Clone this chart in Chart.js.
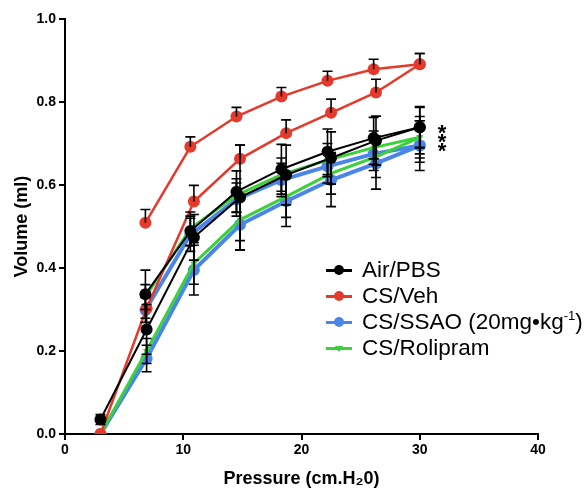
<!DOCTYPE html>
<html>
<head>
<meta charset="utf-8">
<script src="https://cdn.jsdelivr.net/npm/chart.js@4/dist/chart.umd.min.js"></script>
<style>
  body { margin: 0; background: #fff; }
  #wrap { position: relative; width: 588px; height: 491px; }
  #legend { position: absolute; left: 326px; top: 257px; font-family: "Liberation Sans", Arial, sans-serif; font-size: 22.5px; color: #000; }
  .row { height: 26px; line-height: 26px; white-space: nowrap; position: relative; padding-left: 36px; }
  .mk { position: absolute; left: 0; top: 12px; width: 26px; height: 2.5px; }
  .dot { position: absolute; left: 8px; top: -4px; width: 10px; height: 10px; border-radius: 50%; }
  .tri { position: absolute; left: 9px; top: -1px; width: 0; height: 0; border-left: 4px solid transparent; border-right: 4px solid transparent; border-top: 6px solid #3ad13a; }
  sup { font-size: 13px; vertical-align: 9px; line-height: 0; }
</style>
</head>
<body>
<div id="wrap">
  <canvas id="myChart" width="588" height="491"></canvas>
  <div id="legend"></div>
</div>
<script>
// pressures (cm H2O) for the two limbs of the P-V loop
var inflationPressure = [3, 6.9, 10.9, 14.8, 18.7, 22.5, 26.3, 30];
var deflationPressure = [6.8, 10.6, 14.5, 18.3, 22.2, 26.1, 30];

var groupNames = ["Air/PBS", "CS/Veh", "CS/SSAO (20mg\u2022kg-1)", "CS/Rolipram"];
var groupColors = ["#000000", "#e5392b", "#4a86ea", "#3ad13a"];

// volumes (ml)
var airInfl = [0.035, 0.252, 0.474, 0.570, 0.624, 0.665, 0.707, 0.739];
var airDefl = [0.337, 0.489, 0.584, 0.638, 0.680, 0.713, 0.739];
var vehInfl = [0, 0.303, 0.560, 0.663, 0.725, 0.774, 0.823, 0.891];
var vehDefl = [0.509, 0.692, 0.765, 0.813, 0.851, 0.879, 0.891];
var ssaoInfl = [0, 0.182, 0.395, 0.504, 0.561, 0.612, 0.652, 0.695];
var ssaoDefl = [0.299, 0.480, 0.565, 0.612, 0.645, 0.675, 0.695];
var roliInfl = [0, 0.200, 0.411, 0.516, 0.572, 0.628, 0.668, 0.715];
var roliDefl = [0.330, 0.495, 0.575, 0.625, 0.660, 0.690, 0.715];

// SEM
var airInflErr = [0.012, 0.06, 0.055, 0.126, 0.072, 0.063, 0.059, 0.05];
var airDeflErr = [0.058, 0.036, 0.05, 0.06, 0.055, 0.05, 0.048];
var vehInflErr = [0, 0, 0.039, 0.033, 0.032, 0.033, 0.032, 0.026];
var vehDeflErr = [0.032, 0.024, 0.022, 0.022, 0.023, 0.024, 0.026];
var ssaoInflErr = [0, 0.032, 0.06, 0.061, 0.061, 0.064, 0.062, 0.06];
var ssaoDeflErr = [0.03, 0.04, 0.04, 0.04, 0.04, 0.04, 0.04];
var roliInflErr = [0, 0.03, 0.05, 0.05, 0.05, 0.05, 0.05, 0.05];
var roliDeflErr = [0.03, 0.04, 0.04, 0.04, 0.04, 0.04, 0.04];

var xTicks = [0, 10, 20, 30, 40];
var yTicks = [0, 0.2, 0.4, 0.6, 0.8, 1.0];

function toPoints(xs, ys) {
    return xs.map(function (x, i) { return { x: x, y: ys[i] }; });
}

function makeSet(g, xs, ys, errs, upOnly, order) {
    var c = groupColors[g];
    var widths = [2, 2.5, 4, 3];
    return {
        label: groupNames[g],
        data: toPoints(xs, ys),
        err: errs,
        errUpOnly: upOnly,
        borderColor: c,
        backgroundColor: c,
        borderWidth: widths[g],
        pointRadius: g == 3 ? 4 : 6,
        pointStyle: g == 3 ? "triangle" : "circle",
        rotation: g == 3 ? 180 : 0,
        pointBorderWidth: 0,
        tension: 0,
        order: order
    };
}

var datasets = [
    makeSet(0, inflationPressure, airInfl, airInflErr, false, 1),
    makeSet(0, deflationPressure, airDefl, airDeflErr, false, 1),
    makeSet(1, inflationPressure, vehInfl, vehInflErr, true, 2),
    makeSet(1, deflationPressure, vehDefl, vehDeflErr, true, 2),
    makeSet(3, inflationPressure, roliInfl, roliInflErr, false, 3),
    makeSet(3, deflationPressure, roliDefl, roliDeflErr, false, 3),
    makeSet(2, inflationPressure, ssaoInfl, ssaoInflErr, false, 4),
    makeSet(2, deflationPressure, ssaoDefl, ssaoDeflErr, false, 4)
];

var errorBars = {
    id: "errorBars",
    afterDatasetsDraw: function (chart) {
        var ctx = chart.ctx;
        var xs = chart.scales.x, ys = chart.scales.y;
        ctx.save();
        ctx.strokeStyle = "#000";
        ctx.lineWidth = 1.6;
        chart.data.datasets.forEach(function (ds) {
            ds.data.forEach(function (p, i) {
                var e = ds.err[i];
                if (!e) return;
                var px = xs.getPixelForValue(p.x);
                var top = ys.getPixelForValue(p.y + e);
                var bot = ys.getPixelForValue(ds.errUpOnly ? p.y : p.y - e);
                ctx.beginPath();
                ctx.moveTo(px, top); ctx.lineTo(px, bot);
                ctx.moveTo(px - 5, top); ctx.lineTo(px + 5, top);
                if (!ds.errUpOnly) { ctx.moveTo(px - 5, bot); ctx.lineTo(px + 5, bot); }
                ctx.stroke();
            });
        });
        // significance stars
        ctx.fillStyle = "#000";
        ctx.font = "bold 22px 'Liberation Sans', Arial, sans-serif";
        ctx.textAlign = "center";
        ctx.textBaseline = "alphabetic";
        [127, 136, 145].forEach(function (cy) { ctx.fillText("*", 442, cy + 12.6); });
        ctx.restore();
    }
};

var tickFont = { family: "'Liberation Sans', Arial, sans-serif", size: 14, weight: "bold" };
var titleFont = { family: "'Liberation Sans', Arial, sans-serif", size: 18, weight: "bold" };

new Chart("myChart", {
    type: "line",
    data: { datasets: datasets },
    options: {
        responsive: false,
        animation: false,
        layout: { padding: { top: 19, right: 50, left: 0, bottom: 0 } },
        plugins: { legend: { display: false }, tooltip: { enabled: false } },
        scales: {
            x: {
                type: "linear",
                min: 0, max: 40,
                afterBuildTicks: function (s) { s.ticks = xTicks.map(function (v) { return { value: v }; }); },
                afterFit: function (s) { s.height = 57; },
                grid: { drawOnChartArea: false, color: "#000", lineWidth: 2, tickLength: 6 },
                border: { color: "#000", width: 2 },
                ticks: { color: "#000", font: tickFont, padding: 2, maxRotation: 0 },
                title: { display: true, text: "Pressure (cm.H\u20820)", color: "#000", font: titleFont, padding: { top: 0, bottom: 1 } }
            },
            y: {
                min: 0, max: 1,
                afterBuildTicks: function (s) { s.ticks = yTicks.map(function (v) { return { value: v }; }); },
                afterFit: function (s) { s.width = 65; },
                grid: { drawOnChartArea: false, color: "#000", lineWidth: 2, tickLength: 6 },
                border: { color: "#000", width: 2 },
                ticks: { color: "#000", font: tickFont, padding: 3, callback: function (v) { return v.toFixed(1); } },
                title: { display: true, text: "Volume (ml)", color: "#000", font: titleFont, padding: { top: 11, bottom: 0 } }
            }
        }
    },
    plugins: [errorBars]
});

// legend
var legend = document.getElementById("legend");
groupNames.forEach(function (name, g) {
    var row = document.createElement("div");
    row.className = "row";
    var mk = document.createElement("span");
    mk.className = "mk";
    mk.style.background = groupColors[g];
    var d = document.createElement("span");
    if (g == 3) { d.className = "tri"; }
    else { d.className = "dot"; d.style.background = groupColors[g]; }
    mk.appendChild(d);
    row.appendChild(mk);
    var txt = document.createElement("span");
    if (name.indexOf("kg-1") >= 0) txt.innerHTML = name.replace("kg-1", "kg<sup>-1</sup>");
    else txt.textContent = name;
    row.appendChild(txt);
    legend.appendChild(row);
});
</script>
</body>
</html>
